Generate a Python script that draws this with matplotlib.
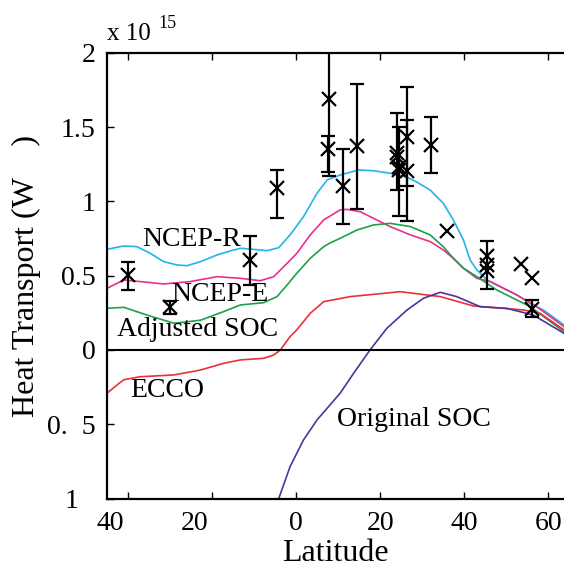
import numpy as np
import matplotlib
matplotlib.use("Agg")
import matplotlib.pyplot as plt
from matplotlib.transforms import ScaledTranslation

plt.rcParams['font.family'] = ['Liberation Serif', 'DejaVu Serif']

# model curves (latitude, heat transport in 1e15 W)
ncep_r_lat = [-44.9, -40.9, -37.8, -34.6, -31.4, -28.3, -25.9, -22.7, -18.8, -15.6, -13.2, -10.1, -6.9, -4.1,
              -1.4, 1.8, 5.0, 7.4, 10.5, 14.9, 18.4, 22.4, 26.4, 28.7, 31.9, 35, 37.4, 39.8, 41.4, 43,
              45.4, 49.3, 52.5, 55.7, 58.8, 63.7]
ncep_r_val = [0.677, 0.70, 0.695, 0.650, 0.594, 0.572, 0.567, 0.594, 0.639, 0.666, 0.684, 0.677, 0.668, 0.688,
              0.774, 0.897, 1.054, 1.144, 1.177, 1.211, 1.206, 1.189, 1.162, 1.13, 1.076, 0.987, 0.875, 0.74, 0.605, 0.538,
              0.471, 0.415, 0.37, 0.314, 0.269, 0.168]

ncep_e_lat = [-44.9, -40.9, -37, -31.4, -25.1, -18.8, -13.2, -8.5, -5.3, -2.1, 0.2, 3.4, 6.6, 10.5, 12.1, 15.3,
              18.4, 22.4, 27.2, 31.9, 35, 37.4, 39.8, 43, 46.2, 52.5, 57.2, 63.7]
ncep_e_val = [0.415, 0.471, 0.46, 0.444, 0.46, 0.493, 0.482, 0.466, 0.493, 0.583, 0.65, 0.774, 0.875, 0.942, 0.946, 0.93,
              0.886, 0.83, 0.774, 0.729, 0.673, 0.617, 0.55, 0.482, 0.46, 0.37, 0.291, 0.157]

adj_soc_lat = [-44.9, -40.9, -35.4, -29, -22.7, -17.2, -13.2, -7.7, -4.5, -2.1, 0.2, 3.4, 6.6, 8.1, 10.5, 14.5,
               18.4, 22.4, 27.2, 31.9, 35, 37.4, 39.8, 43, 47.7, 55.7, 63.7]
adj_soc_val = [0.28, 0.287, 0.235, 0.18, 0.2, 0.258, 0.303, 0.318, 0.359, 0.437, 0.516, 0.617, 0.695, 0.72, 0.751, 0.807,
               0.841, 0.852, 0.83, 0.774, 0.695, 0.617, 0.55, 0.493, 0.404, 0.291, 0.123]

ecco_lat = [-44.9, -42.5, -40.9, -37, -29, -22.7, -17.2, -13.2, -7.7, -5.3, -3.7, -1.4, 0.2, 3.4, 6.6, 12.9,
            24.8, 34.3, 42.2, 54.1, 58, 63.7]
ecco_val = [-0.291, -0.235, -0.2, -0.18, -0.168, -0.135, -0.09, -0.067, -0.056, -0.034, 0.0, 0.09, 0.135, 0.247, 0.325, 0.359,
            0.392, 0.359, 0.296, 0.269, 0.247, 0.135]

orig_soc_lat = [-4.1, -1.4, 1.8, 5.0, 10.5, 13.7, 17.6, 21.6, 26.4, 30.3, 34.3, 38.2, 43.8, 50.1, 56.4, 63.7]
orig_soc_val = [-1.0, -0.785, -0.605, -0.471, -0.291, -0.157, 0.0, 0.146, 0.269, 0.348, 0.388, 0.359, 0.291, 0.28, 0.235, 0.112]

# observations with error bars
bar_lat = [-40, -30, -11, -4.5, 7.9, 7.6, 11.1, 14.5, 24.0, 24.4, 26.4, 26.4, 32.0, 45.5, 56.1]
bar_val = [0.505, 0.287, 0.605, 1.09, 1.69, 1.35, 1.10, 1.37, 1.323, 1.21, 1.435, 1.206, 1.38, 0.57, 0.276]
bar_lo = [0.10, 0.045, 0.17, 0.20, 0.52, 0.15, 0.25, 0.42, 0.25, 0.31, 0.33, 0.34, 0.19, 0.16, 0.055]
bar_hi = [0.09, 0.045, 0.16, 0.12, 0.52, 0.09, 0.25, 0.42, 0.27, 0.29, 0.335, 0.34, 0.19, 0.16, 0.06]

# observations without error bars
pt_lat = [24.0, 24.6, 36.0, 45.5, 45.5, 53.4, 56.1]
pt_val = [1.296, 1.233, 0.80, 0.63, 0.53, 0.576, 0.487]

xticks = [-40, -20, 0, 20, 40, 60]
xtick_labels = ["40", "20", "0", "20", "40", "60"]
yticks = [-1, -0.5, 0, 0.5, 1, 1.5, 2]
ytick_labels = ["1", "0.  5", "0", "0.5", "1", "1.5", "2"]

fig = plt.figure(figsize=(5.64, 5.69), dpi=100)
ax = fig.add_axes([0.189, 0.1237, 0.811, 0.7837])

ax.plot(ncep_r_lat, ncep_r_val, color='#22b4ea', lw=1.2)
ax.plot(ncep_e_lat, ncep_e_val, color='#e8308c', lw=1.2)
ax.plot(adj_soc_lat, adj_soc_val, color='#1ea046', lw=1.2)
ax.plot(ecco_lat, ecco_val, color='#e83038', lw=1.2)
ax.plot(orig_soc_lat, orig_soc_val, color='#50329e', lw=1.2)
ax.axhline(0, color='black', lw=1.5)

ax.errorbar(bar_lat, bar_val, yerr=[bar_lo, bar_hi], fmt='x', color='black',
            ms=10, mew=1.6, elinewidth=1.6, capsize=5, capthick=1.6)
ax.plot(pt_lat, pt_val, 'x', color='black', ms=10, mew=1.6)

ax.set_xlim(-45, 63.7)
ax.set_ylim(-1, 2)

ax.set_xticks(xticks)
ax.set_xticklabels(xtick_labels)
ax.set_yticks(yticks)
ax.set_yticklabels(ytick_labels)
ax.tick_params(direction='in', length=5, width=1, labelsize=20, top=True, pad=9)
ax.tick_params(axis='y', pad=8)
for sp in ['left', 'bottom', 'top']:
    ax.spines[sp].set_linewidth(1.6)
ax.spines['right'].set_visible(False)

# labels whose missing minus glyph shifts them left
shift = ScaledTranslation(-17 / 100, 0, fig.dpi_scale_trans)
for lab in ax.get_xticklabels()[:2]:
    lab.set_transform(lab.get_transform() + shift)
ylab0 = ax.get_yticklabels()[0]
ylab0.set_transform(ylab0.get_transform() + shift)

ax.set_xlabel("Latitude", fontsize=23, labelpad=2)
ax.set_ylabel("Heat Transport (W    )", fontsize=23, labelpad=4)
fig.text(0.19, 0.93, "x 10", fontsize=18, ha='left', va='baseline')
fig.text(0.28, 0.95, "15", fontsize=13, ha='left', va='baseline')

ax.text(-24.9, 0.74, "NCEP-R", fontsize=20, ha='center', va='center')
ax.text(-18.0, 0.375, "NCEP-E", fontsize=20, ha='center', va='center')
ax.text(-23.3, 0.135, "Adjusted SOC", fontsize=20, ha='center', va='center')
ax.text(-30.5, -0.276, "ECCO", fontsize=20, ha='center', va='center')
ax.text(28.1, -0.47, "Original SOC", fontsize=20, ha='center', va='center')

fig.savefig("out.png", dpi=100)
